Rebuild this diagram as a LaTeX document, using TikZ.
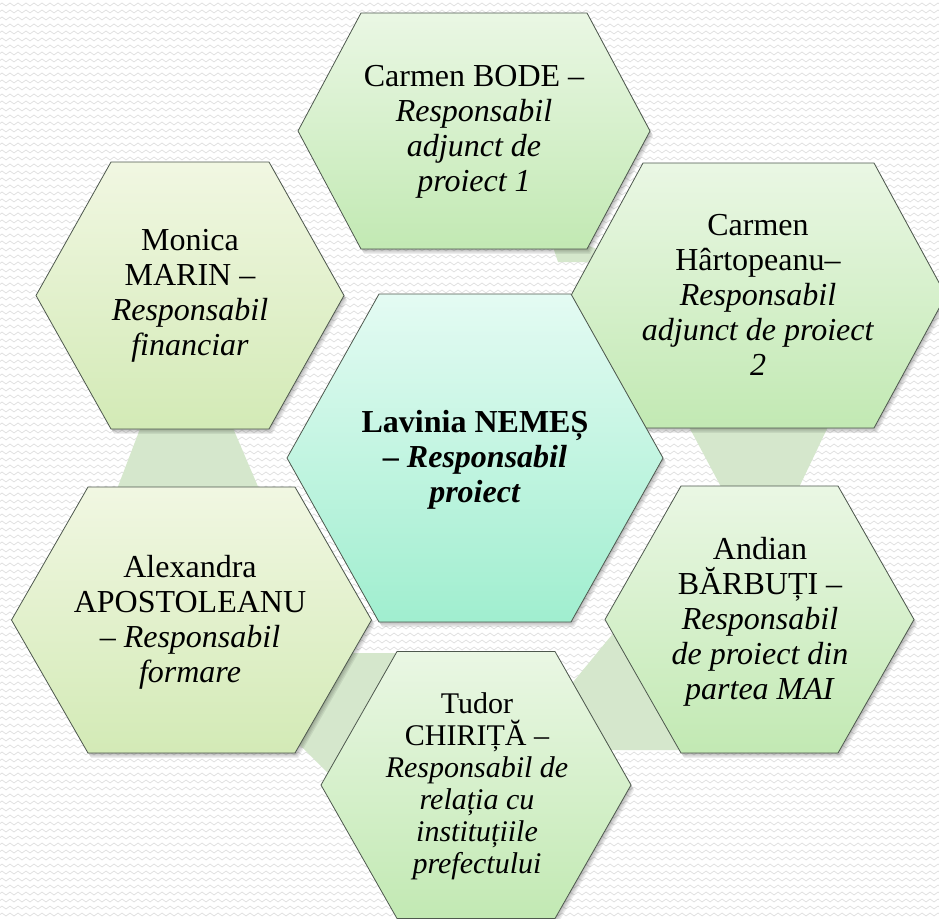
\documentclass[tikz,border=0pt]{standalone}
\usepackage{fontspec}
\setmainfont{Liberation Serif}
\usetikzlibrary{patterns}

\definecolor{gLight}{HTML}{EAF7E4}
\definecolor{gDark}{HTML}{C2E9B3}
\definecolor{yLight}{HTML}{F1F7E2}
\definecolor{yDark}{HTML}{D3EAB6}
\definecolor{cLight}{HTML}{E4FBF3}
\definecolor{cDark}{HTML}{A0EECF}
\definecolor{connC}{HTML}{D5E7CC}
\definecolor{edgeC}{HTML}{4E584E}

\pgfdeclarepatternformonly{waves}{\pgfqpoint{-1pt}{-1pt}}{\pgfqpoint{9pt}{8pt}}{\pgfqpoint{8pt}{7pt}}{%
  \pgfsetlinewidth{0.7pt}%
  \pgfpathmoveto{\pgfqpoint{0pt}{3.5pt}}%
  \pgfpathcurveto{\pgfqpoint{1.3pt}{5.5pt}}{\pgfqpoint{2.7pt}{5.5pt}}{\pgfqpoint{4pt}{3.5pt}}%
  \pgfpathcurveto{\pgfqpoint{5.3pt}{1.5pt}}{\pgfqpoint{6.7pt}{1.5pt}}{\pgfqpoint{8pt}{3.5pt}}%
  \pgfusepath{stroke}}

% #1 cx, #2 cy, #3 half width, #4 half top edge, #5 half height, #6 style
\newcommand{\hexshape}[6]{%
  \foreach \k in {1,...,4}{%
    \fill[black,opacity=0.07,shift={(\k*0.8,\k*1.2)}]
      ({#1-#3},{#2}) -- ({#1-#4},{#2-#5}) -- ({#1+#4},{#2-#5}) -- ({#1+#3},{#2})
      -- ({#1+#4},{#2+#5}) -- ({#1-#4},{#2+#5}) -- cycle;}
  \path[hexbase,#6]
      ({#1-#3},{#2}) -- ({#1-#4},{#2-#5}) -- ({#1+#4},{#2-#5}) -- ({#1+#3},{#2})
      -- ({#1+#4},{#2+#5}) -- ({#1-#4},{#2+#5}) -- cycle;
}

\tikzset{
  hexbase/.style={draw=edgeC, line width=0.8pt, shading=axis, shading angle=-35},
  greenhex/.style={top color=gLight, bottom color=gDark},
  yellowhex/.style={top color=yLight, bottom color=yDark},
  centrehex/.style={top color=cLight, bottom color=cDark},
  conn/.style={fill=connC},
  txt/.style={align=center, font=\fontsize{32}{35}\selectfont, inner sep=0pt, text=black},
  smalltxt/.style={align=center, font=\fontsize{30}{32}\selectfont, inner sep=0pt, text=black}
}

\begin{document}
\begin{tikzpicture}[x=1pt,y=-1pt]
\useasboundingbox (0,0) rectangle (939,918);
\fill[white] (0,0) rectangle (939,918);
\fill[pattern=waves, pattern color=black!12] (0,0) rectangle (939,918);

% connectors (behind the hexagons)
\path[conn] (151,400) -- (221,400) -- (268,510) -- (109,510) -- cycle;      % Monica - Alexandra
\path[conn] (680,410) -- (836,410) -- (793,500) -- (728,500) -- cycle;      % Hartopeanu - Andian
\path[conn] (560,698) -- (620,625) -- (700,750) -- (595,750) -- cycle;      % Andian - Tudor
\path[conn] (330,653) -- (420,653) -- (340,785) -- (295,740) -- cycle;      % Tudor - Alexandra
\path[conn] (552,244) -- (558,262) -- (600,262) -- (596,249) -- (585,244) -- cycle; % Bode - Hartopeanu

% hexagons
\hexshape{474}{131}{176}{113}{118}{greenhex}
\hexshape{758.5}{295.5}{187.5}{115.5}{132.5}{greenhex}
\hexshape{190}{295.5}{154}{79}{133.5}{yellowhex}
\hexshape{191.5}{620}{180}{103.5}{133}{yellowhex}
\hexshape{759.5}{619.5}{154.5}{78.5}{133.5}{greenhex}
\hexshape{476}{785}{155}{79}{133.5}{greenhex}
\hexshape{475}{458}{188}{96}{164}{centrehex}

% texts
\node[txt] (bode) at (474,132) {Carmen BODE –\\ \textit{Responsabil}\\ \textit{adjunct de}\\ \textit{proiect 1}};
\node[txt] (hartopeanu) at (758,295) {Carmen\\ Hârtopeanu–\\ \textit{Responsabil}\\ \textit{adjunct de proiect}\\ \textit{2}};
\node[txt] (marin) at (190,296) {Monica\\ MARIN –\\ \textit{Responsabil}\\ \textit{financiar}};
\node[txt] (apostoleanu) at (190,622) {Alexandra\\ APOSTOLEANU\\ – \textit{Responsabil}\\ \textit{formare}};
\node[txt] (barbuti) at (760,622) {Andian\\ BĂRBUȚI –\\ \textit{Responsabil}\\ \textit{de proiect din}\\ \textit{partea MAI}};
\node[smalltxt] (chirita) at (477,786) {Tudor\\ CHIRIȚĂ –\\ \textit{Responsabil de}\\ \textit{relația cu}\\ \textit{instituțiile}\\ \textit{prefectului}};
\node[txt] (nemes) at (475,460) {\textbf{Lavinia NEMEȘ}\\ \textbf{– \textit{Responsabil}}\\ \textbf{\textit{proiect}}};
\end{tikzpicture}
\end{document}
